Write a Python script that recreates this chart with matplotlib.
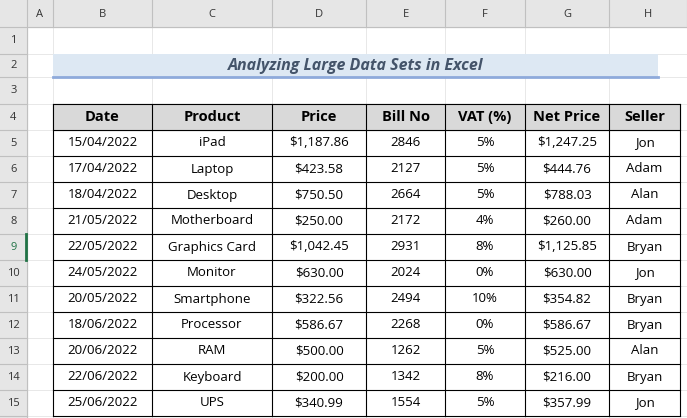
import matplotlib
matplotlib.use("Agg")
import matplotlib.pyplot as plt
from matplotlib.patches import Rectangle

headers = ["Date", "Product", "Price", "Bill No", "VAT (%)", "Net Price", "Seller"]
dates = ["15/04/2022","17/04/2022","18/04/2022","21/05/2022","22/05/2022","24/05/2022",
         "20/05/2022","18/06/2022","20/06/2022","22/06/2022","25/06/2022"]
products = ["iPad","Laptop","Desktop","Motherboard","Graphics Card","Monitor",
            "Smartphone","Processor","RAM","Keyboard","UPS"]
prices = ["$1,187.86","$423.58","$750.50","$250.00","$1,042.45","$630.00",
          "$322.56","$586.67","$500.00","$200.00","$340.99"]
bills = ["2846","2127","2664","2172","2931","2024","2494","2268","1262","1342","1554"]
vats = ["5%","5%","5%","4%","8%","0%","10%","0%","5%","8%","5%"]
nets = ["$1,247.25","$444.76","$788.03","$260.00","$1,125.85","$630.00",
        "$354.82","$586.67","$525.00","$216.00","$357.99"]
sellers = ["Jon","Adam","Alan","Adam","Bryan","Jon","Bryan","Bryan","Alan","Bryan","Jon"]
title = "Analyzing Large Data Sets in Excel"
col_letters = ["A","B","C","D","E","F","G","H"]

W, H = 687, 418
fig = plt.figure(figsize=(W/100, H/100), dpi=100)
ax = fig.add_axes([0, 0, 1, 1])
ax.set_xlim(0, W); ax.set_ylim(H, 0); ax.axis("off")
font = "Open Sans"

xb = [0, 27, 53, 152, 272, 366, 445, 525, 609, 687]
yb = [0, 27, 54, 77, 104, 130, 156, 182, 208, 234, 260, 286, 312, 338, 364, 390, 416, 442]

# column header band
ax.add_patch(Rectangle((0, 0), W, yb[1], color="#e6e6e6", zorder=0))
ax.add_patch(Rectangle((0, 0), xb[1], H, color="#e6e6e6", zorder=0))
for i, c in enumerate(col_letters):
    x0, x1 = xb[i+1], xb[i+2]
    ax.plot([x1, x1], [0, yb[1]], color="#c0c0c0", lw=0.8)
    ax.text((x0+x1)/2, yb[1]/2+1, c, ha="center", va="center", fontsize=8, family=font, color="#333")
for r in range(1, 16):
    y0, y1 = yb[r], yb[r+1]
    ax.plot([0, xb[1]], [y1, y1], color="#c0c0c0", lw=0.8)
    ax.text(xb[1]/2, (y0+y1)/2, str(r), ha="center", va="center", fontsize=8, family=font,
            color="#217346" if r == 9 else "#333")
ax.plot([xb[1], xb[1]], [0, H], color="#c0c0c0", lw=0.8)
ax.plot([0, W], [yb[1], yb[1]], color="#c0c0c0", lw=0.8)
ax.plot([xb[1]-1, xb[1]-1], [yb[9], yb[10]], color="#217346", lw=2)
# faint grid
for x in xb[2:]:
    ax.plot([x, x], [yb[1], H], color="#e4e4e4", lw=0.6, zorder=0)
for y in yb[2:]:
    ax.plot([xb[1], W], [y, y], color="#e4e4e4", lw=0.6, zorder=0)

# title bar
ax.add_patch(Rectangle((xb[2], yb[2]), 658-xb[2], yb[3]-yb[2], facecolor="#dde8f3", edgecolor="none", zorder=2))
ax.plot([xb[2], 658], [yb[3], yb[3]], color="#8eaadb", lw=2, zorder=3)
ax.text((xb[2]+658)/2, (yb[2]+yb[3])/2, title, ha="center", va="center", fontsize=11.5,
        fontweight="bold", style="italic", color="#44546a", family=font, zorder=4)

# table
cols = [dates, products, prices, bills, vats, nets, sellers]
ty0 = yb[4]
ax.add_patch(Rectangle((xb[2], ty0), xb[9]-xb[2]-7, yb[5]-ty0, color="#d9d9d9", zorder=2))
xr = [xb[2], xb[3], xb[4], xb[5], xb[6], xb[7], xb[8], xb[9]-7]
for j, h in enumerate(headers):
    ax.text((xr[j]+xr[j+1])/2, (yb[4]+yb[5])/2, h, ha="center", va="center", fontsize=10.5,
            fontweight="bold", family=font, zorder=4)
for i in range(len(dates)):
    y0, y1 = yb[5+i], yb[6+i]
    for j, col in enumerate(cols):
        ax.text((xr[j]+xr[j+1])/2, (y0+y1)/2, col[i], ha="center", va="center", fontsize=9.5,
                family=font, zorder=4)
ylast = yb[5+len(dates)]
for x in xr:
    ax.plot([x, x], [ty0, ylast], color="black", lw=0.8, zorder=5)
for r in range(4, 5+len(dates)+1):
    ax.plot([xr[0], xr[-1]], [yb[r], yb[r]], color="black", lw=0.8, zorder=5)

fig.savefig("out.png", dpi=100)
